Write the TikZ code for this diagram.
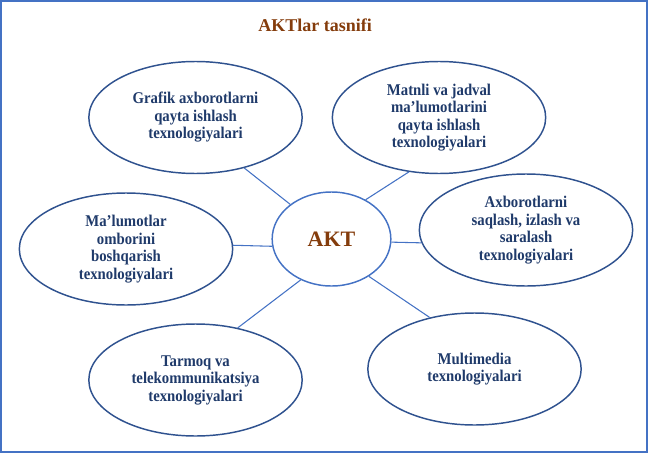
\documentclass[tikz,border=0pt]{standalone}
\usepackage{fontspec}
\setmainfont{Liberation Serif}
\newfontfamily\ovalfont[FakeStretch=0.9]{Liberation Serif}
\usetikzlibrary{shapes.geometric}
\definecolor{framecol}{RGB}{68,114,196}
\definecolor{ovalcol}{RGB}{47,82,143}
\definecolor{textcol}{RGB}{31,58,106}
\definecolor{titlecol}{RGB}{132,60,12}
\begin{document}
\begin{tikzpicture}[x=0.75pt,y=-0.75pt,
        oval/.style={ellipse, draw=ovalcol, line width=1.1pt, inner sep=0pt,
                minimum width=160pt, minimum height=84pt, align=center,
                text=textcol, font=\ovalfont\bfseries\fontsize{12.3}{13.1}\selectfont},
        hub/.style={ellipse, draw=framecol, line width=1.1pt, inner sep=0pt,
                minimum width=89pt, minimum height=70.5pt,
                text=titlecol, font=\bfseries\fontsize{16.5}{18}\selectfont},
        link/.style={framecol, line width=0.8pt}]
                \useasboundingbox (0,0) rectangle (648,453);
                \draw [framecol, line width=1.8pt] (1.2,1.2) rectangle (646.8,451.8);

                \node [text=titlecol, font=\bfseries\fontsize{13.5}{15}\selectfont] (title) at (315,25.5) {AKTlar tasnifi};

                \node [hub] (akt) at (331.5,239) {AKT};

                \node [oval] (grafik) at (195.5,117.5) {Grafik axborotlarni\\qayta ishlash\\texnologiyalari};
                \node [oval] (matnli) at (439,117.5) {Matnli va jadval\\ma’lumotlarini\\qayta ishlash\\texnologiyalari};
                \node [oval] (malumot) at (126,249) {Ma’lumotlar\\omborini\\boshqarish\\texnologiyalari};
                \node [oval] (axborot) at (526,230) {Axborotlarni\\saqlash, izlash va\\saralash\\texnologiyalari};
                \node [oval] (tarmoq) at (195.5,380) {Tarmoq va\\telekommunikatsiya\\texnologiyalari};
                \node [oval] (multimedia) at (474.5,369) {Multimedia\\texnologiyalari};

                \draw [link] (grafik.-46) -- (akt.140);
                \draw [link] (matnli.-119) -- (akt.49);
                \draw [link] (malumot.2) -- (akt.-173);
                \draw [link] (axborot.-173.5) -- (akt.-3);
                \draw [link] (tarmoq.51) -- (akt.-127.5);
                \draw [link] (multimedia.131) -- (akt.-45.5);
            \end{tikzpicture}
\end{document}
